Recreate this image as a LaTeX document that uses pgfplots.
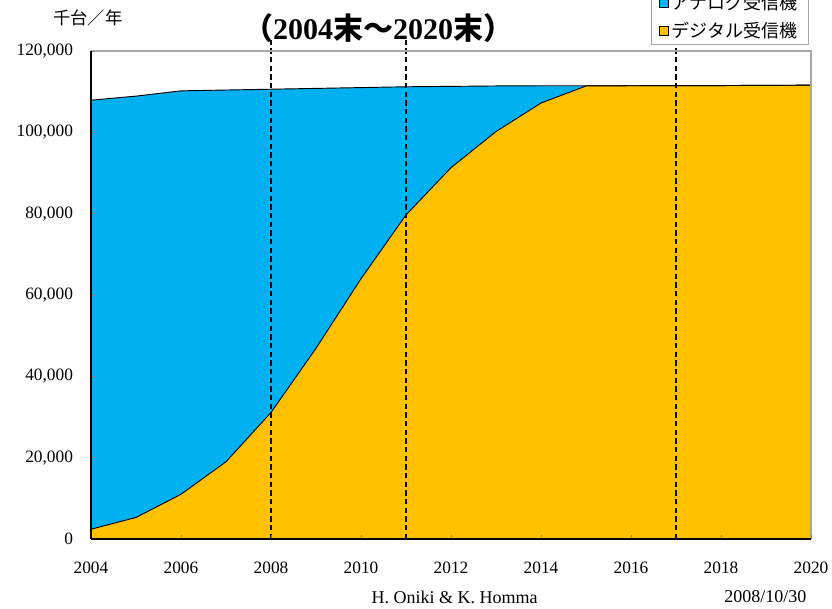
\documentclass[border=0pt]{standalone}
\usepackage{fontspec}
\setmainfont{Liberation Serif}
\newfontfamily\cjk{Noto Sans CJK JP}
\usepackage{pgfplots}
\pgfplotsset{compat=1.18}
\usepackage{pgfplotstable}
\definecolor{analog}{HTML}{00B0F0}
\definecolor{digital}{HTML}{FFC000}
\pgfplotstableread{
year total
2004 107900
2005 108900
2006 110200
2007 110400
2008 110600
2009 110800
2010 111000
2011 111200
2012 111300
2013 111400
2014 111450
2015 111450
2016 111450
2017 111500
2018 111500
2019 111550
2020 111600
}\totaltab
\pgfplotstableread{
year digital
2004 2400
2005 5300
2006 11000
2007 19000
2008 31100
2009 46900
2010 64000
2011 79700
2012 91300
2013 100200
2014 107200
2015 111400
2016 111450
2017 111500
2018 111500
2019 111550
2020 111600
}\digitaltab
\begin{document}
\begin{tikzpicture}
\path[use as bounding box] (-68.25pt,-52.5pt) rectangle (555.75pt,404.25pt);
\begin{axis}[
  at={(0,0)}, anchor=south west,
  scale only axis, width=540pt, height=366pt,
  xmin=2004, xmax=2020, ymin=0, ymax=120000,
  xtick={2004,2006,2008,2010,2012,2014,2016,2018,2020},
  xticklabels={2004,2006,2008,2010,2012,2014,2016,2018,2020},
  ytick={0,20000,40000,60000,80000,100000,120000},
  yticklabels={0,{20,000},{40,000},{60,000},{80,000},{100,000},{120,000}},
  xticklabel style={font=\fontsize{13}{15}\selectfont, yshift=-14pt},
  yticklabel style={font=\fontsize{13}{15}\selectfont, xshift=-10pt},
  scaled y ticks=false,
  axis x line*=bottom, axis y line*=left,
  axis line style={-, black, line width=0.8pt},
  tick align=inside, major tick length=3pt,
  tick style={gray, line width=0.4pt},
  axis on top=true,
  clip=false,
  legend cell align=left,
  legend style={at={(rel axis cs:0.996,1.0123)}, anchor=south east, draw=gray!70, fill=white,
    font=\cjk\fontsize{13.5}{15}\selectfont, row sep=4pt, inner xsep=6pt, inner ysep=2pt},
  legend image code/.code={\draw[#1,draw=black,line width=0.4pt] (0pt,-3.5pt) rectangle (7pt,3.5pt);},
]
\addplot[fill=analog, draw=none] table[x=year,y=total] {\totaltab} \closedcycle;
\addlegendentry{アナログ受信機}
\addplot[fill=digital, draw=none] table[x=year,y=digital] {\digitaltab} \closedcycle;
\addlegendentry{デジタル受信機}
\addplot[black, line width=0.7pt, forget plot] table[x=year,y=total] {\totaltab};
\addplot[black, line width=0.7pt, forget plot] table[x=year,y=digital] {\digitaltab};
\addplot[black, line width=2pt, dash pattern=on 4pt off 2.5pt, forget plot] coordinates {(2008,0) (2008,123200)};
\addplot[black, line width=2pt, dash pattern=on 4pt off 2.5pt, forget plot] coordinates {(2011,0) (2011,123200)};
\addplot[black, line width=2pt, dash pattern=on 4pt off 2.5pt, forget plot] coordinates {(2017,0) (2017,123200)};
\draw[gray!70, line width=0.8pt] (rel axis cs:0,1) -- (rel axis cs:1,1) -- (rel axis cs:1,0);
\end{axis}
\node[font=\bfseries\fontsize{22.5}{26}\selectfont] at (215.25pt,383.25pt) {{\cjk （}2004{\cjk 末～}2020{\cjk 末）}};
\node[font=\cjk\fontsize{13}{15}\selectfont] at (-2.25pt,390.75pt) {千台／年};
\node[anchor=west, font=\fontsize{13.5}{15}\selectfont] at (207pt,-43.5pt) {H. Oniki \& K. Homma};
\node[anchor=east, font=\fontsize{13.5}{15}\selectfont] at (540pt,-43.5pt) {2008/10/30};
\end{tikzpicture}
\end{document}
